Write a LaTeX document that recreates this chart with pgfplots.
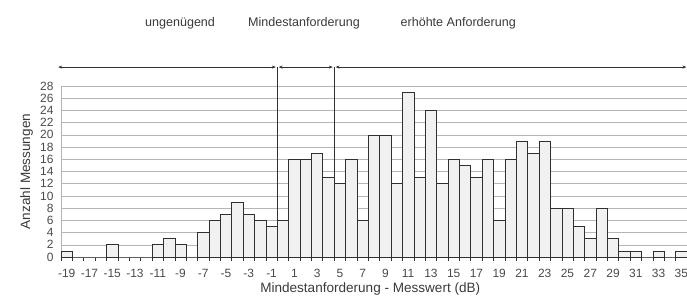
\documentclass[border=0pt]{standalone}
\usepackage{fontspec}
\setmainfont{Liberation Sans}
\usepackage{pgfplots}
\pgfplotsset{compat=1.18}
\usetikzlibrary{arrows.meta}
\definecolor{txt}{HTML}{3A3A3A}
\definecolor{ticktxt}{HTML}{4A4A4A}
\definecolor{gridc}{HTML}{B5B5B5}
\definecolor{barfill}{HTML}{F1F1F1}
\definecolor{edge}{HTML}{303030}
\begin{document}
\begin{tikzpicture}
\begin{axis}[
 at={(61bp,41bp)}, anchor=south west,
 scale only axis, width=626bp, height=171bp,
 xmin=-19.5, xmax=35.5, ymin=0, ymax=28,
 clip=false,
 axis line style={gridc, line width=0.6pt},
 xtick={-19,-17,...,35},
 ytick={0,2,...,28},
 minor xtick={-19.5,-18.5,...,35.5},
 major tick length=0pt,
 minor tick length=4bp,
 tick align=outside,
 xtick pos=bottom, ytick pos=left,
 minor tick style={edge, line width=0.6pt},
 ymajorgrids, grid style={gridc, line width=0.5pt},
 tick label style={font=\fontsize{12}{14}\selectfont, text=ticktxt},
 /pgf/number format/assume math mode=true,
 xticklabel style={yshift=-9bp},
 yticklabel style={xshift=-4bp},
 xlabel={Mindestanforderung - Messwert (dB)},
 ylabel={Anzahl Messungen},
 label style={font=\fontsize{13.6}{16}\selectfont, text=txt},
 xlabel style={at={(rel axis cs:0.494,-0.185)}, anchor=center},
 ylabel style={at={(rel axis cs:-0.055,0.5)}, anchor=center},
]
\addplot[ybar, bar width=1, fill=barfill, draw=edge, line width=0.6pt] coordinates {
(-19,1) (-18,0) (-17,0) (-16,0) (-15,2) (-14,0) (-13,0) (-12,0) (-11,2) (-10,3)
(-9,2) (-8,0) (-7,4) (-6,6) (-5,7) (-4,9) (-3,7) (-2,6) (-1,5) (0,6)
(1,16) (2,16) (3,17) (4,13) (5,12) (6,16) (7,6) (8,20) (9,20) (10,12)
(11,27) (12,13) (13,24) (14,12) (15,16) (16,15) (17,13) (18,16) (19,6) (20,16)
(21,19) (22,17) (23,19) (24,8) (25,8) (26,5) (27,3) (28,8) (29,3) (30,1)
(31,1) (32,0) (33,1) (34,0) (35,1)
};
\draw[edge, line width=0.6pt] (axis cs:-0.5,0) -- (axis cs:-0.5,31.1);
\draw[edge, line width=0.6pt] (axis cs:4.5,0) -- (axis cs:4.5,31.1);
\draw[edge, line width=0.6pt, {Stealth[length=4bp,width=3bp]}-{Stealth[length=4bp,width=3bp]}] (axis cs:-19.75,31.1) -- (axis cs:-0.62,31.1);
\draw[edge, line width=0.6pt, {Stealth[length=4bp,width=3bp]}-{Stealth[length=4bp,width=3bp]}] (axis cs:-0.38,31.1) -- (axis cs:4.38,31.1);
\draw[edge, line width=0.6pt, {Stealth[length=4bp,width=3bp]}-{Stealth[length=4bp,width=3bp]}] (axis cs:4.62,31.1) -- (axis cs:35.45,31.1);
\node[text=txt, font=\fontsize{12.6}{15}\selectfont] at (axis cs:-9.04,38.3) {ungenügend};
\node[text=txt, font=\fontsize{12.6}{15}\selectfont] at (axis cs:1.85,38.3) {Mindestanforderung};
\node[text=txt, font=\fontsize{12.6}{15}\selectfont] at (axis cs:15.4,38.3) {erhöhte Anforderung};
\end{axis}
\pgfresetboundingbox
\path (0,0) rectangle (687bp,298bp);
\end{tikzpicture}
\end{document}
